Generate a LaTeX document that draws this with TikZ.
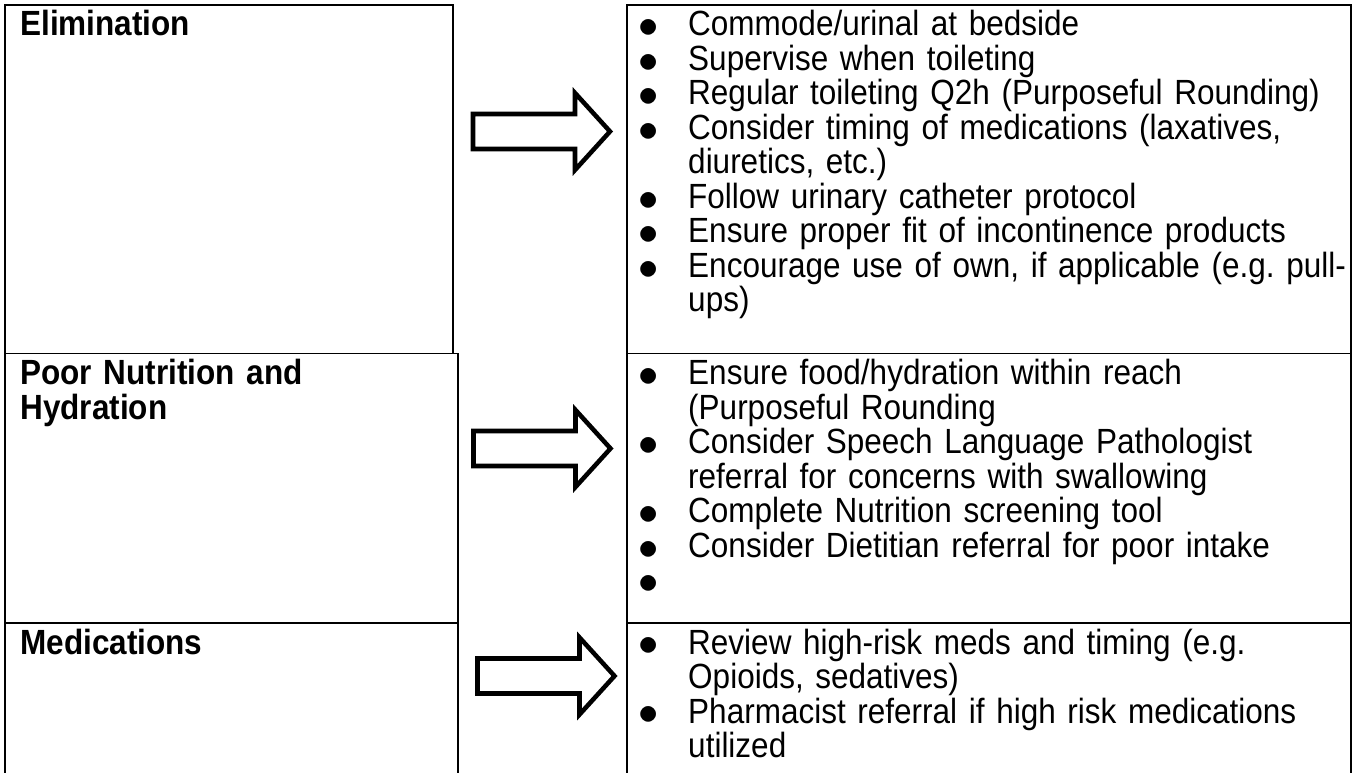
\documentclass[tikz,border=0pt]{standalone}
\usepackage{fontspec}
\usepackage{graphicx}
\usepackage{xcolor}
\setmainfont{Liberation Sans}[FakeStretch=0.9]
\definecolor{ink}{HTML}{000000}
\frenchspacing
\newcommand{\riskdot}{\hspace*{-1pt}\raisebox{-1.2pt}{\scalebox{1.22}{$\bullet$}}}
\newcommand{\riskitem}[1]{\noindent\hangindent=36.2pt\hangafter=1\makebox[36.2pt][l]{\riskdot}#1\par}

\tikzset{
  cell/.style={draw=ink,line width=1pt},
  riskhead/.style={anchor=base west,inner sep=0pt,text width=315pt,align=left,
                   font=\bfseries\fontsize{26.25pt}{25.875pt}\selectfont},
  actions/.style={anchor=base west,inner sep=0pt,text width=540pt,align=left,
                  font=\fontsize{26.25pt}{25.875pt}\selectfont},
  blockarrow/.pic={
    \draw[draw=ink,line width=3.4pt,fill=white]
      (0,-17.5) -- (102,-17.5) -- (102,-38.5) -- (137,0) -- (102,38.5)
      -- (102,17.5) -- (0,17.5) -- cycle;}
}

\begin{document}
\begin{tikzpicture}[x=0.75pt,y=-0.75pt]
  \useasboundingbox (0,0) rectangle (1354,773);

  % table cells
  \draw[cell] (5,5) rectangle (453,353.5);
  \draw[cell] (627,5) rectangle (1351,353.5);
  \draw[cell] (5,353.5) rectangle (458,623);
  \draw[cell] (627,353.5) rectangle (1351,623);
  \draw[cell] (5,773) |- (458,623) -- (458,773);
  \draw[cell] (627,773) |- (1351,623) -- (1351,773);

  % risk factors
  \node[riskhead] (elim) at (20,36) {Elimination};
  \node[riskhead] (nutr) at (20,385) {Poor Nutrition and\\Hydration};
  \node[riskhead] (meds) at (20,654) {Medications};

  % arrows
  \pic at (473,131.5) {blockarrow};
  \pic at (473.5,448.5) {blockarrow};
  \pic at (477.5,676) {blockarrow};

  % interventions
  \node[actions] (elimdo) at (639.7,36) {%
    \riskitem{Commode/urinal at bedside}
    \riskitem{Supervise when toileting}
    \riskitem{Regular toileting Q2h (Purposeful Rounding)}
    \riskitem{Consider timing of medications (laxatives,\newline diuretics, etc.)}
    \riskitem{Follow urinary catheter protocol}
    \riskitem{Ensure proper fit of incontinence products}
    \riskitem{Encourage use of own, if applicable (e.g. pull-\newline ups)}};
  \node[actions] (nutrdo) at (639.7,385) {%
    \riskitem{Ensure food/hydration within reach\newline (Purposeful Rounding}
    \riskitem{Consider Speech Language Pathologist\newline referral for concerns with swallowing}
    \riskitem{Complete Nutrition screening tool}
    \riskitem{Consider Dietitian referral for poor intake}
    \riskitem{}};
  \node[actions] (medsdo) at (639.7,654) {%
    \riskitem{Review high-risk meds and timing (e.g.\newline Opioids, sedatives)}
    \riskitem{Pharmacist referral if high risk medications\newline utilized}};
\end{tikzpicture}
\end{document}
